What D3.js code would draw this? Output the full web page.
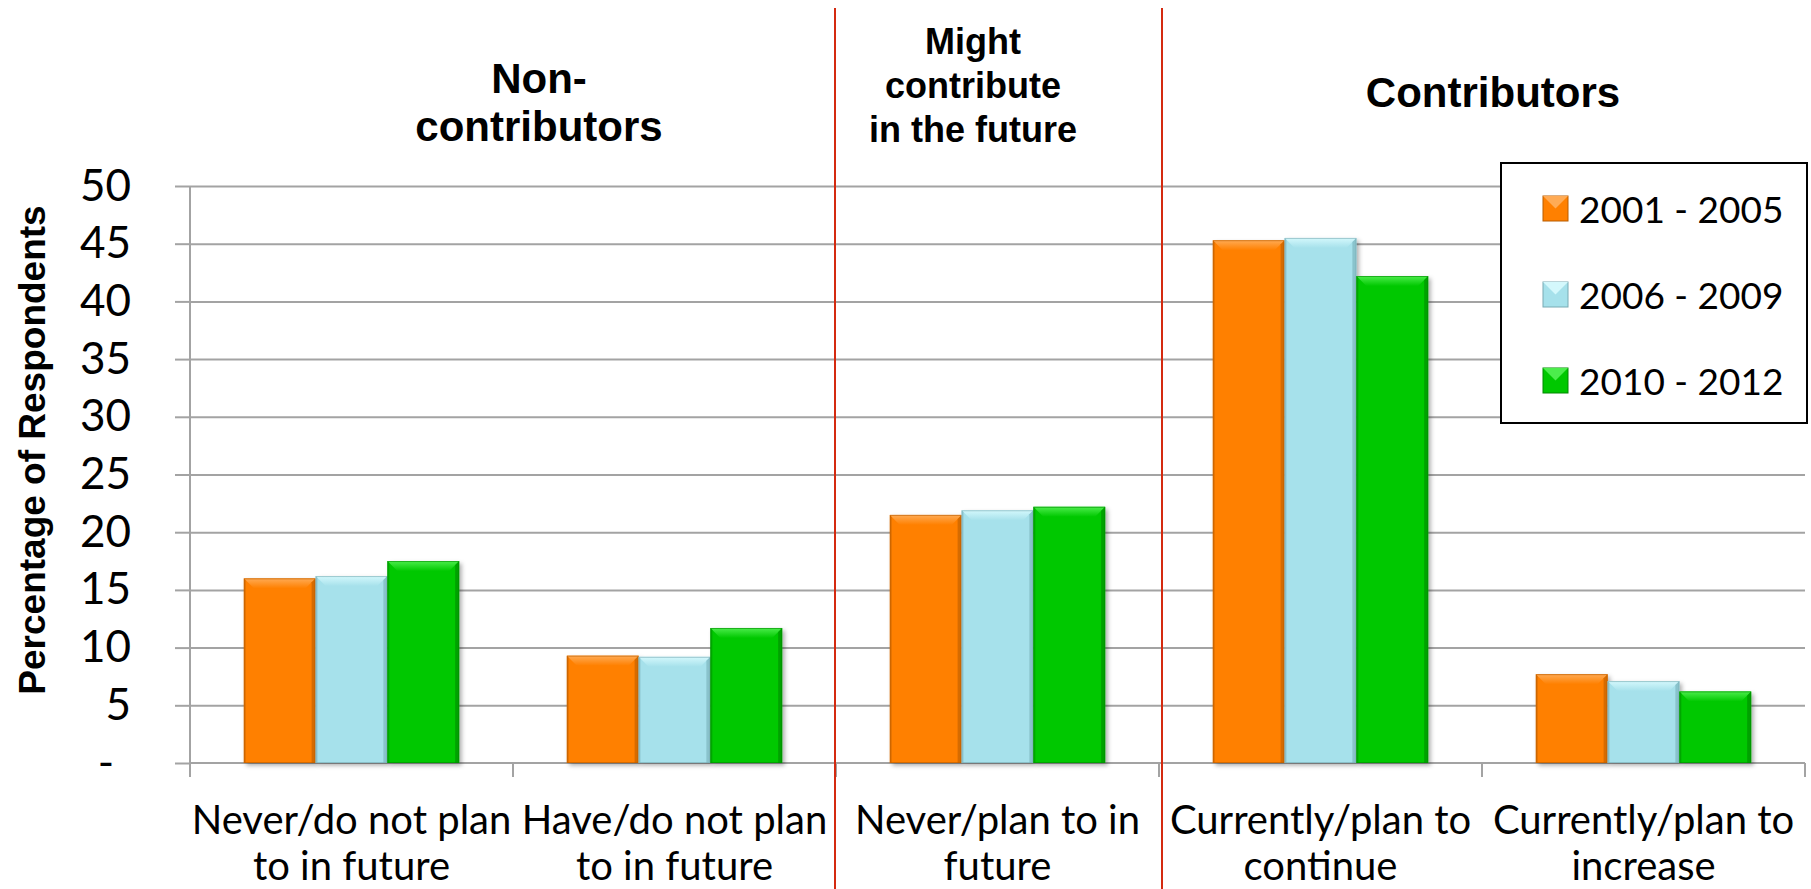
<!DOCTYPE html>
<html>
<head>
<meta charset="utf-8">
<script src="https://cdn.jsdelivr.net/npm/d3@7"></script>
<style>
  html, body { margin: 0; padding: 0; background: #ffffff; }
  svg { display: block; }
</style>
</head>
<body>
<svg id="chart" width="1811" height="889"></svg>
<script>
// Survey responses by period
const categories = [
  "Never/do not plan to in future",
  "Have/do not plan to in future",
  "Never/plan to in future",
  "Currently/plan to continue",
  "Currently/plan to increase"
];
const categoryLines = [
  ["Never/do not plan", "to in future"],
  ["Have/do not plan", "to in future"],
  ["Never/plan to in", "future"],
  ["Currently/plan to", "continue"],
  ["Currently/plan to", "increase"]
];
const seriesNames = ["2001 - 2005", "2006 - 2009", "2010 - 2012"];
const values2001_2005 = [16.0, 9.3, 21.5, 45.3, 7.7];
const values2006_2009 = [16.2, 9.2, 21.9, 45.5, 7.1];
const values2010_2012 = [17.5, 11.7, 22.2, 42.2, 6.2];
const yTicks = [0, 5, 10, 15, 20, 25, 30, 35, 40, 45, 50];
const yTickLabels = ["-", "5", "10", "15", "20", "25", "30", "35", "40", "45", "50"];
const yTitle = "Percentage of Respondents";
const sectionTitles = [
  { lines: ["Non-", "contributors"] },
  { lines: ["Might", "contribute", "in the future"] },
  { lines: ["Contributors"] }
];

const seriesValues = [values2001_2005, values2006_2009, values2010_2012];
const seriesColors = [
  { base: "#ff8000", light: "#ffab55", dark: "#c86400", edge: "#b85c00" },
  { base: "#a6e1eb", light: "#d4f8fc", dark: "#7fb8c2", edge: "#78aab3" },
  { base: "#00c800", light: "#4ced4c", dark: "#009600", edge: "#008a00" }
];

const svg = d3.select("#chart");
const axisX = 190, plotRight = 1805, yTop = 186, yBottom = 763;

const y = d3.scaleLinear().domain([0, 50]).range([yBottom, yTop]);
const x = d3.scaleBand().domain(categories).range([axisX, plotRight]).padding(0);
const bw = x.bandwidth();
const x1 = d3.scaleBand().domain(seriesNames).range([bw / 6, bw * 5 / 6]).padding(0);

// drop shadow for bars
const defs = svg.append("defs");
const f = defs.append("filter").attr("id", "shadow")
  .attr("x", "-10%").attr("y", "-10%").attr("width", "130%").attr("height", "130%");
f.append("feDropShadow").attr("dx", 2.5).attr("dy", 2.5).attr("stdDeviation", 2.2)
  .attr("flood-color", "#000").attr("flood-opacity", 0.32);

// top bevel gradients
seriesColors.forEach((col, i) => {
  const lgd = defs.append("linearGradient").attr("id", "bev" + i)
    .attr("x1", 0).attr("y1", 0).attr("x2", 0).attr("y2", 1);
  lgd.append("stop").attr("offset", "0%").attr("stop-color", col.light);
  lgd.append("stop").attr("offset", "100%").attr("stop-color", col.base);
});

// gridlines
const grid = svg.append("g").attr("transform", `translate(${axisX},0)`)
  .call(d3.axisLeft(y).tickValues(yTicks.slice(1)).tickSize(-(plotRight - axisX)).tickFormat(""));
grid.select(".domain").remove();
grid.selectAll("line").attr("stroke", "#a3a3a3").attr("stroke-width", 2);

// y axis with labels
const yAxis = svg.append("g").attr("transform", `translate(${axisX},0)`)
  .call(d3.axisLeft(y).tickValues(yTicks).tickSize(15).tickPadding(44)
    .tickFormat((d, i) => yTickLabels[i]));
yAxis.select(".domain").attr("stroke", "#a3a3a3").attr("stroke-width", 2)
  .attr("d", `M0,${yTop}V${yBottom + 14}`);
yAxis.selectAll("line").attr("stroke", "#a3a3a3").attr("stroke-width", 2);
yAxis.selectAll("text")
  .attr("font-family", "Lato, 'Open Sans', sans-serif")
  .attr("font-size", 44).attr("fill", "#000")
  .attr("dx", d => d === 0 ? -17 : 0);

// x axis line and boundary ticks
svg.append("line").attr("x1", axisX).attr("x2", plotRight)
  .attr("y1", yBottom).attr("y2", yBottom)
  .attr("stroke", "#a3a3a3").attr("stroke-width", 2);
const boundaries = categories.map(c => x(c)).concat([x(categories[categories.length - 1]) + bw]);
svg.append("g").selectAll("line").data(boundaries).join("line")
  .attr("x1", d => d).attr("x2", d => d)
  .attr("y1", yBottom).attr("y2", yBottom + 14)
  .attr("stroke", "#a3a3a3").attr("stroke-width", 2);

// category labels
const xAxis = svg.append("g").attr("transform", `translate(0,${yBottom})`)
  .call(d3.axisBottom(x).tickSize(0).tickFormat(""));
xAxis.select(".domain").remove();
xAxis.selectAll(".tick").each(function (d, i) {
  const t = d3.select(this).append("text")
    .attr("text-anchor", "middle")
    .attr("font-family", "Lato, 'Open Sans', sans-serif")
    .attr("font-size", 40).attr("fill", "#000");
  categoryLines[i].forEach((line, k) => {
    t.append("tspan").attr("x", 0).attr("y", 71 + k * 46).text(line);
  });
});

// bars with bevel
const bevel = 10;
const groups = svg.append("g").selectAll("g").data(categories).join("g")
  .attr("transform", d => `translate(${x(d)},0)`);
seriesNames.forEach((s, si) => {
  const col = seriesColors[si];
  groups.each(function (c, ci) {
    const v = seriesValues[si][ci];
    const x0 = x1(s), x2 = x1(s) + x1.bandwidth();
    const y0 = y(v), yb = y(0);
    const g = d3.select(this).append("g");
    g.append("rect").attr("x", x0).attr("y", y0).attr("width", x2 - x0).attr("height", yb - y0)
      .attr("fill", col.base).attr("filter", "url(#shadow)");
    // top bevel face
    g.append("polygon")
      .attr("points", [[x0, y0], [x2, y0], [x2 - bevel, y0 + bevel], [x0 + bevel, y0 + bevel]].map(p => p.join(",")).join(" "))
      .attr("fill", `url(#bev${si})`);
    // right shaded edge
    g.append("polygon")
      .attr("points", [[x2, y0], [x2, yb], [x2 - 4, yb], [x2 - 4, y0 + 4]].map(p => p.join(",")).join(" "))
      .attr("fill", col.dark).attr("opacity", 0.75);
    // left edge
    g.append("polygon")
      .attr("points", [[x0, y0], [x0 + 2, y0 + 2], [x0 + 2, yb], [x0, yb]].map(p => p.join(",")).join(" "))
      .attr("fill", col.dark).attr("opacity", 0.5);
    g.append("rect").attr("x", x0 + 0.5).attr("y", y0 + 0.5).attr("width", x2 - x0 - 1).attr("height", yb - y0 - 1)
      .attr("fill", "none").attr("stroke", col.edge).attr("stroke-width", 1).attr("opacity", 0.6);
  });
});

// section dividers
const dividers = [x(categories[2]) - 1, x(categories[3]) + 3];
svg.append("g").selectAll("line").data(dividers).join("line")
  .attr("x1", d => d).attr("x2", d => d).attr("y1", 8).attr("y2", 889)
  .attr("stroke", "#d42a10").attr("stroke-width", 2);

// section titles
const titleSpecs = [
  { cx: 539, baseline: 93, size: 42, lh: 48 },
  { cx: 973, baseline: 54, size: 36, lh: 44 },
  { cx: 1493, baseline: 107, size: 42, lh: 48 }
];
sectionTitles.forEach((st, i) => {
  const sp = titleSpecs[i];
  const t = svg.append("text").attr("text-anchor", "middle")
    .attr("font-family", "'Liberation Sans', Arial, sans-serif")
    .attr("font-weight", "bold").attr("font-size", sp.size).attr("fill", "#000");
  st.lines.forEach((l, k) => t.append("tspan").attr("x", sp.cx).attr("y", sp.baseline + k * sp.lh).text(l));
});

// y axis title
svg.append("text")
  .attr("transform", "translate(45,450) rotate(-90)")
  .attr("text-anchor", "middle")
  .attr("font-family", "'Liberation Sans', Arial, sans-serif")
  .attr("font-weight", "bold").attr("font-size", 37).attr("fill", "#000")
  .text(yTitle);

// legend
const lg = svg.append("g");
lg.append("rect").attr("x", 1501).attr("y", 163).attr("width", 306).attr("height", 260)
  .attr("fill", "#fff").attr("stroke", "#000").attr("stroke-width", 2);
seriesNames.forEach((s, i) => {
  const col = seriesColors[i];
  const sy = 196 + i * 86, sx = 1543, sz = 25;
  const item = lg.append("g");
  item.append("rect").attr("x", sx).attr("y", sy).attr("width", sz).attr("height", sz)
    .attr("fill", col.base).attr("stroke", col.edge).attr("stroke-width", 1);
  item.append("polygon")
    .attr("points", [[sx, sy], [sx + sz, sy], [sx + sz / 2, sy + sz / 2]].map(p => p.join(",")).join(" "))
    .attr("fill", col.light);
  item.append("text").attr("x", 1579).attr("y", sy + 27)
    .attr("font-family", "Lato, 'Open Sans', sans-serif")
    .attr("font-size", 37).attr("fill", "#000").text(s);
});
</script>
</body>
</html>
